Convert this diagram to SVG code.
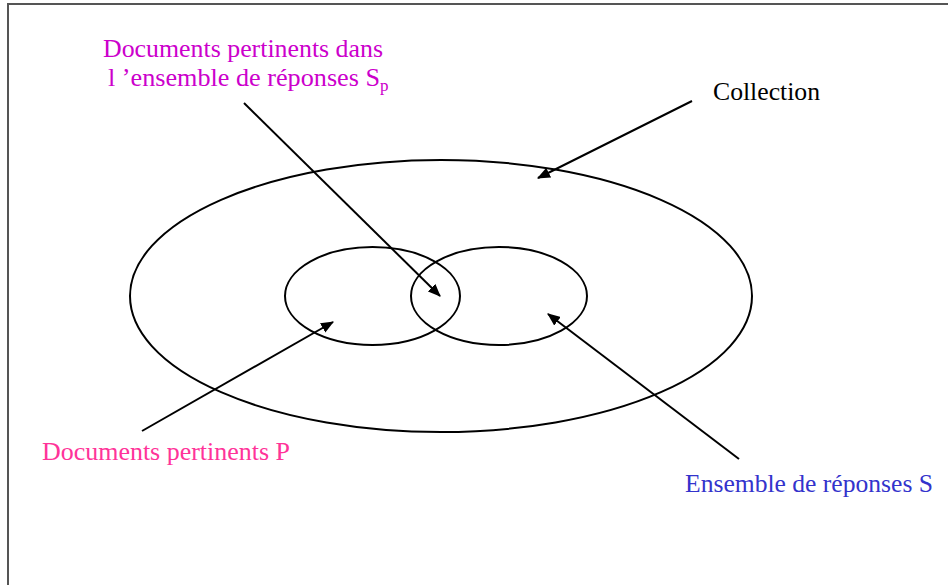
<svg xmlns="http://www.w3.org/2000/svg" width="948" height="585" viewBox="0 0 948 585">
<defs>
<marker id="ah" viewBox="0 0 12 10" refX="11" refY="5" markerWidth="13" markerHeight="11" markerUnits="userSpaceOnUse" orient="auto">
<path d="M0,0 L12,5 L0,10 z" fill="#000"/>
</marker>
<style>
.e{fill:none;stroke:#000;stroke-width:2}
.c{stroke:#000;stroke-width:2;fill:none;marker-end:url(#ah)}
</style>
</defs>
<rect width="948" height="585" fill="#fff"/>
<path d="M8,585 V4 H948" fill="none" stroke="#555" stroke-width="2"/>
<g id="collection"><ellipse class="e" cx="441" cy="296" rx="311" ry="136"/></g>
<g id="P"><ellipse class="e" cx="372.5" cy="296" rx="87.5" ry="49"/></g>
<g id="S"><ellipse class="e" cx="499" cy="296" rx="88" ry="49"/></g>
<g id="connectors">
<line class="c" x1="244" y1="103" x2="440" y2="296"/>
<line class="c" x1="692" y1="101" x2="538" y2="178"/>
<line class="c" x1="142" y1="431" x2="333" y2="322"/>
<line class="c" x1="739" y1="459" x2="548" y2="314"/>
</g>
<g id="label-sp" fill="#cc00cc" font-family="Liberation Serif, serif" font-size="25">
<text x="103" y="57" textLength="280" lengthAdjust="spacingAndGlyphs">Documents pertinents dans</text>
<text x="108" y="86"><tspan textLength="272" lengthAdjust="spacingAndGlyphs">l ’ensemble de réponses S</tspan><tspan font-size="17" dy="5">p</tspan></text>
</g>
<g id="label-collection" font-family="Liberation Serif, serif" font-size="25"><text x="713" y="100" textLength="107" lengthAdjust="spacingAndGlyphs">Collection</text></g>
<g id="label-p" fill="#ff3399" font-family="Liberation Serif, serif" font-size="25"><text x="42" y="460" textLength="248" lengthAdjust="spacingAndGlyphs">Documents pertinents P</text></g>
<g id="label-s" fill="#3333cc" font-family="Liberation Serif, serif" font-size="25"><text x="685" y="492" textLength="248" lengthAdjust="spacingAndGlyphs">Ensemble de réponses S</text></g>
</svg>
